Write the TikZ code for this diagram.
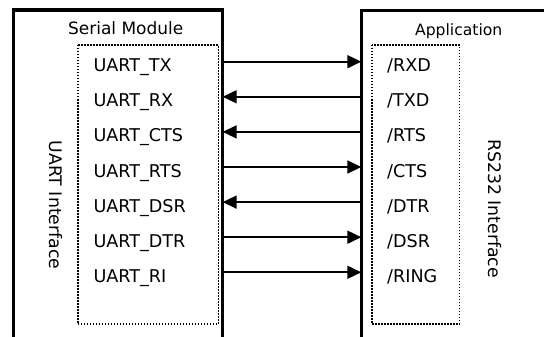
\documentclass[tikz,border=0pt]{standalone}
\usepackage{fontspec}
\setmainfont{DejaVu Sans}
\usetikzlibrary{arrows.meta}
\begin{document}
\begin{tikzpicture}[x=1pt,y=-1pt,
  modbox/.style={line width=3.4pt},
  dotbox/.style={line width=1.6pt,dash pattern=on 1.5pt off 1.5pt},
  sig/.style={line width=1.8pt,-{Triangle[length=14pt,width=13pt]}},
  lbl/.style={anchor=base west,inner sep=0pt,font=\fontsize{17.6}{20}\selectfont},
  title/.style={anchor=base,inner sep=0pt},
  vlbl/.style={rotate=-90,inner sep=0pt,font=\fontsize{17.3}{20}\selectfont}]
\useasboundingbox (0,0) rectangle (544,337);
\clip (0,0) rectangle (544,337);
\fill[white] (0,0) rectangle (544,337);
% module boxes
\draw[modbox] (13.3,345) -- (13.3,10) -- (222.7,10) -- (222.7,345);
\draw[modbox] (361.3,345) -- (361.3,10.5) -- (560,10.5);
% dotted interface boxes
\draw[dotbox] (77.7,45) rectangle (218.3,324);
\draw[dotbox] (372,45) rectangle (459.3,324);
% titles
\node[title,font=\fontsize{17}{20}\selectfont] (sm) at (125.7,35) {Serial Module};
\node[title,font=\fontsize{15.6}{18}\selectfont] (app) at (458.7,36) {Application};
\node[vlbl] (uif) at (55.5,205) {UART Interface};
\node[vlbl] (rif) at (494.5,208.5) {RS232 Interface};
% signals
\foreach \i/\l/\r in {0/UART\_TX/RXD,1/UART\_RX/TXD,2/UART\_CTS/RTS,3/UART\_RTS/CTS,4/UART\_DSR/DTR,5/UART\_DTR/DSR,6/UART\_RI/RING}{
  \pgfmathsetmacro{\yy}{61.7+35.1*\i}
  \pgfmathsetmacro{\yb}{\yy+10}
  \node[lbl] (l\i) at (93.3,\yb) {\l};
  \node[lbl] (r\i) at (387,\yb) {/\r};
  \coordinate (a\i) at (222.7,\yy);
  \coordinate (b\i) at (361.3,\yy);
}
\draw[sig] (a0) -- (b0);
\draw[sig] (b1) -- (a1);
\draw[sig] (b2) -- (a2);
\draw[sig] (a3) -- (b3);
\draw[sig] (b4) -- (a4);
\draw[sig] (a5) -- (b5);
\draw[sig] (a6) -- (b6);
\end{tikzpicture}
\end{document}
